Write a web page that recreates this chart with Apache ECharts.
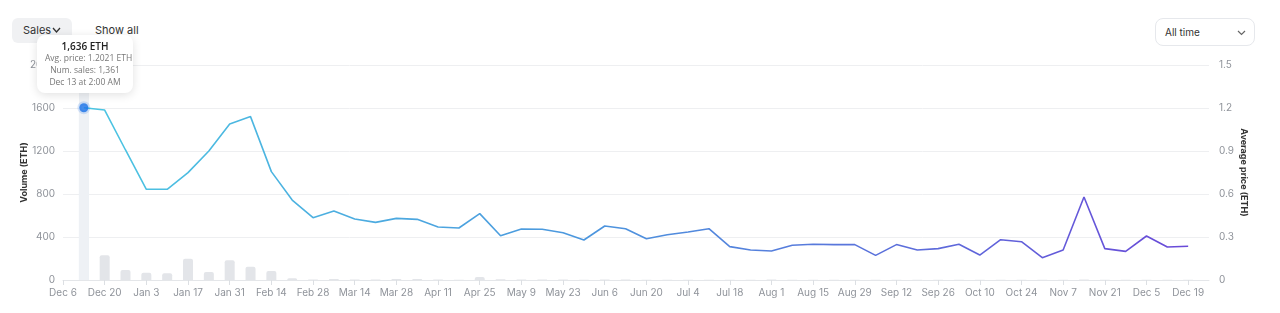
<!DOCTYPE html>
<html>
<head>
<meta charset="utf-8">
<script src="https://cdn.jsdelivr.net/npm/echarts@6/dist/echarts.min.js"></script>
<style>
  html, body { margin:0; padding:0; background:#fff; width:1280px; height:313px; overflow:hidden; font-family: Inter, "Noto Sans", sans-serif; }
  #chart { position:absolute; left:0; top:0; width:1280px; height:313px; }
  .tab { position:absolute; top:18px; height:25px; line-height:25px; font-size:11px; color:#333; border-radius:6px; padding:0 11px; box-sizing:border-box; }
  .tab.active { left:12px; width:60px; background:#f0f1f3; }
  .tab.plain { left:84px; }
  .dd { position:absolute; left:1155px; top:18px; width:100px; height:28px; border:1px solid #e6e8ec; border-radius:8px; box-sizing:border-box; font-size:10px; color:#333; line-height:26px; padding-left:9px; }
  .dd svg, .tab svg { position:absolute; }
</style>
</head>
<body>
<div class="tab active">Sales<svg style="left:40px;top:9px" width="9" height="7" viewBox="0 0 9 7"><path d="M1 1 L4.5 5 L8 1" fill="none" stroke="#333" stroke-width="1.3"/></svg></div>
<div class="tab plain">Show all</div>
<div class="dd">All time<svg style="left:81px;top:11px" width="9" height="6" viewBox="0 0 9 6"><path d="M1 1 L4.5 4.5 L8 1" fill="none" stroke="#666" stroke-width="1.2"/></svg></div>
<div id="chart"></div>
<script>
// Weekly categories (Mondays), Dec 6 2021 .. Dec 26 2022
const categories = [
  'Dec 6','Dec 13','Dec 20','Dec 27',
  'Jan 3','Jan 10','Jan 17','Jan 24','Jan 31',
  'Feb 7','Feb 14','Feb 21','Feb 28',
  'Mar 7','Mar 14','Mar 21','Mar 28',
  'Apr 4','Apr 11','Apr 18','Apr 25',
  'May 2','May 9','May 16','May 23','May 30',
  'Jun 6','Jun 13','Jun 20','Jun 27',
  'Jul 4','Jul 11','Jul 18','Jul 25',
  'Aug 1','Aug 8','Aug 15','Aug 22','Aug 29',
  'Sep 5','Sep 12','Sep 19','Sep 26',
  'Oct 3','Oct 10','Oct 17','Oct 24','Oct 31',
  'Nov 7','Nov 14','Nov 21','Nov 28',
  'Dec 5','Dec 12','Dec 19','Dec 26'
];
// Volume (ETH), left axis
const volume = [
  null,1636,230,93,
  68,62,198,74,183,
  124,84,16,5,
  10,5,4,10,
  10,5,3,28,
  6,5,4,4,3,
  5,4,3,2,
  2,2,2,2,
  4,2,2,2,2,
  2,2,2,2,
  2,2,2,2,2,
  2,4,2,2,
  2,2,2,null
];
// Average price (ETH), right axis
const avgPrice = [
  null,1.2021,1.186,0.907,
  0.633,0.633,0.749,0.90,1.088,
  1.14,0.756,0.558,0.435,
  0.481,0.426,0.402,0.430,
  0.423,0.370,0.363,0.463,
  0.309,0.356,0.354,0.330,0.279,
  0.377,0.357,0.288,0.316,
  0.335,0.358,0.233,0.209,
  0.202,0.242,0.249,0.247,0.247,
  0.172,0.247,0.209,0.219,
  0.249,0.174,0.281,0.267,0.156,
  0.209,0.579,0.219,0.200,
  0.307,0.230,0.235,null
];
const volumeTicks = [0, 400, 800, 1200, 1600, 2000];
const priceTicks = [0, 0.3, 0.6, 0.9, 1.2, 1.5];
// Highlighted (hovered) point
const hiIndex = 1;
const hiSales = 1361;
const hiTime = 'Dec 13 at 2:00 AM';

const chart = echarts.init(document.getElementById('chart'));
const labelColor = '#8f939a';
const splitColor = '#eeeff1';
const bandColor = '#eef1f5';

function fmtNum(n) { return n.toLocaleString('en-US'); }

chart.setOption({
  animation: false,
  grid: { left: 63, right: 71, top: 65, bottom: 33 },
  tooltip: {
    trigger: 'axis',
    triggerOn: 'none',
    alwaysShowContent: true,
    transitionDuration: 0,
    backgroundColor: '#fff',
    borderWidth: 0,
    padding: [5, 8],
    extraCssText: 'box-shadow:0 2px 10px rgba(0,0,0,0.12);border-radius:8px;text-align:center;width:80px;',
    position: function () { return [37, 35]; },
    formatter: function (params) {
      const i = params[0].dataIndex;
      return '<div style="font-family:\'Open Sans\',sans-serif;line-height:12px;">' +
        '<div style="font-size:10px;font-weight:600;color:#222;">' + fmtNum(volume[i]) + ' ETH</div>' +
        '<div style="font-size:8.5px;color:#777;">Avg. price: ' + avgPrice[i].toFixed(4) + ' ETH</div>' +
        '<div style="font-size:8.5px;color:#777;">Num. sales: ' + fmtNum(hiSales) + '</div>' +
        '<div style="font-size:8.5px;color:#777;">' + hiTime + '</div></div>';
    }
  },
  xAxis: {
    type: 'category',
    data: categories,
    boundaryGap: false,
    axisLine: { lineStyle: { color: '#e4e6e9' } },
    axisTick: { show: true, interval: 1, length: 5, lineStyle: { color: '#dcdfe3' } },
    axisLabel: { interval: 1, color: labelColor, fontSize: 10, fontFamily: 'Inter', margin: 8 },
    splitLine: { show: false },
    axisPointer: {
      show: true, type: 'line', z: 1, snap: true,
      lineStyle: { color: bandColor, width: 10, type: 'solid' },
      label: { show: false }
    }
  },
  yAxis: [
    {
      type: 'value', min: volumeTicks[0], max: volumeTicks[volumeTicks.length - 1], interval: 400,
      name: 'Volume (ETH)', nameLocation: 'middle', nameGap: 34, nameMoveOverlap: false,
      nameTextStyle: { color: '#333', fontSize: 9, fontWeight: 'bold', fontFamily: 'Inter' },
      axisLabel: { color: labelColor, fontSize: 10, fontFamily: 'Inter', margin: 8,
        formatter: function (v) { return String(v); } },
      axisLine: { show: false }, axisTick: { show: false },
      splitLine: { lineStyle: { color: splitColor } }
    },
    {
      type: 'value', min: priceTicks[0], max: priceTicks[priceTicks.length - 1], interval: 0.3,
      name: 'Average price (ETH)', nameLocation: 'middle', nameGap: 30, nameRotate: -90, nameMoveOverlap: false,
      nameTextStyle: { color: '#333', fontSize: 9, fontWeight: 'bold', fontFamily: 'Inter' },
      axisLabel: { color: labelColor, fontSize: 10, fontFamily: 'Inter', margin: 10,
        formatter: function (v) { return String(Math.round(v * 10) / 10); } },
      axisLine: { show: false }, axisTick: { show: false },
      splitLine: { show: false }
    }
  ],
  series: [
    {
      name: 'Volume', type: 'bar', yAxisIndex: 0, data: volume, barWidth: 10, z: 2,
      itemStyle: {
        borderRadius: [2, 2, 0, 0],
        color: function (p) { return p.dataIndex === hiIndex ? bandColor : '#e3e5e9'; }
      },
      emphasis: { disabled: true }
    },
    {
      name: 'Average price', type: 'line', yAxisIndex: 1, data: avgPrice, symbol: 'none', z: 3,
      lineStyle: {
        width: 1.6,
        color: new echarts.graphic.LinearGradient(0, 0, 1, 0, [
          { offset: 0, color: '#4cc6e2' },
          { offset: 0.45, color: '#4c97de' },
          { offset: 1, color: '#6a4ad8' }
        ])
      },
      emphasis: { disabled: true }
    },
    {
      name: 'Selected', type: 'scatter', yAxisIndex: 1, z: 5,
      data: [[categories[hiIndex], avgPrice[hiIndex]]],
      symbolSize: 9,
      itemStyle: { color: '#1a73e8', borderColor: 'rgba(26,115,232,0.22)', borderWidth: 4 },
      emphasis: { disabled: true },
      tooltip: { show: false }
    }
  ]
});
chart.dispatchAction({ type: 'showTip', seriesIndex: 0, dataIndex: hiIndex });
</script>
</body>
</html>
